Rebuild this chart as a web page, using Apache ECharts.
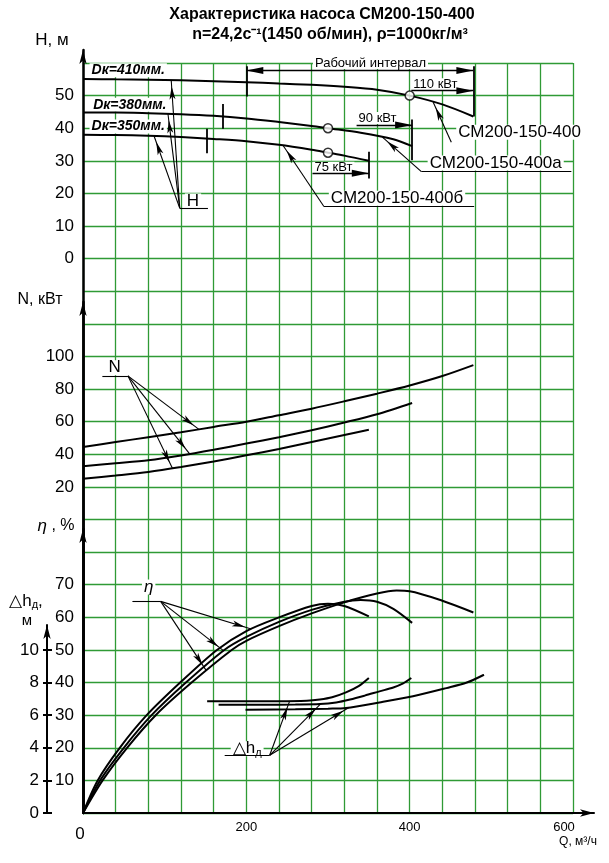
<!DOCTYPE html>
<html><head><meta charset="utf-8">
<script src="https://cdn.jsdelivr.net/npm/echarts@6.0.0/dist/echarts.min.js"></script>
<style>html,body{margin:0;padding:0;background:#fff;}#chart{width:609px;height:863px;}</style>
</head><body><div id="chart"></div>
<script>
// ---------- tick labels ----------
const qLabels = [0, 200, 400, 600];
const hTicks = [0, 10, 20, 30, 40, 50];
const nTicks = [20, 40, 60, 80, 100];
const etaTicks = [10, 20, 30, 40, 50, 60, 70];
const dhTicks = [0, 2, 4, 6, 8, 10];

// ---------- H–Q (m) ----------
const qH410 = [0, 40, 80, 120, 160, 200, 240, 280, 320, 360, 400, 440, 478];
const h410  = [55.1, 55, 54.9, 54.7, 54.4, 54.1, 53.7, 53.3, 52.7, 51.8, 50, 47.3, 43.6];
const qH380 = [0, 40, 80, 120, 160, 200, 240, 280, 300, 340, 380, 403];
const h380  = [44.8, 44.8, 44.6, 44.3, 43.8, 43, 41.9, 40.7, 40, 38.6, 36.6, 34.5];
const qH350 = [0, 40, 80, 120, 160, 200, 240, 280, 300, 320, 350];
const h350  = [38, 37.9, 37.7, 37.3, 36.7, 36, 34.9, 33.4, 32.5, 31.6, 30];

// ---------- N–Q (kW) ----------
const qN410 = [0, 40, 80, 120, 160, 200, 240, 280, 320, 360, 400, 440, 478];
const n410  = [44.5, 47.5, 50.5, 53.5, 56.8, 60, 64, 68, 72.5, 77.2, 82.2, 88, 94.7];
const qN380 = [0, 40, 80, 120, 160, 200, 240, 280, 320, 360, 403];
const n380  = [32.7, 34.5, 36.4, 39.3, 42.8, 46.6, 50.5, 54.8, 59.5, 64.6, 71.5];
const qN350 = [0, 40, 80, 120, 160, 200, 240, 280, 320, 350];
const n350  = [25, 27, 29.2, 32.2, 35.6, 39.4, 43.3, 47.6, 51.8, 55];

// ---------- η–Q (%) ----------
const qE410 = [0, 24, 54, 89, 133, 182, 200, 240, 280, 320, 360, 384, 400, 440, 478];
const e410  = [0, 10, 20, 30, 40, 50, 52.8, 57.3, 61.2, 64.6, 67.3, 68.2, 68, 65.1, 61.5];
const qE380 = [0, 21, 50, 84, 126, 173, 200, 240, 280, 320, 340, 360, 380, 403];
const e380  = [0, 10, 20, 30, 40, 50, 54, 58.6, 62.3, 64.8, 65.3, 64.8, 62.6, 58.3];
const qE350 = [0, 18, 45, 78, 119, 164, 200, 240, 280, 300, 320, 350];
const e350  = [0, 10, 20, 30, 40, 50, 55.8, 60, 63.5, 64.2, 63.5, 60.3];

// ---------- Δh–Q (m) ----------
const qD350 = [152, 200, 240, 274, 290, 305, 322, 338, 350];
const d350  = [6.85, 6.85, 6.85, 6.88, 6.96, 7.1, 7.4, 7.8, 8.28];
const qD380 = [166, 220, 260, 290, 310, 327, 345, 363, 380, 392, 402];
const d380  = [6.64, 6.64, 6.65, 6.68, 6.78, 6.96, 7.2, 7.46, 7.7, 7.95, 8.28];
const qD410 = [199, 260, 300, 322, 363, 404, 445, 470, 491];
const d410  = [6.34, 6.36, 6.4, 6.44, 6.78, 7.16, 7.66, 8.0, 8.48];

// ---------- duty points ----------
const dutyQ = [400, 300, 300];
const dutyH = [50, 40, 32.5];
const dutyPower = ['110 кВт', '90 кВт', '75 кВт'];
const curveNames = ['СМ200-150-400', 'СМ200-150-400а', 'СМ200-150-400б'];
const diaNames = ['Dк=410мм.', 'Dк=380мм.', 'Dк=350мм.'];

// ================= rendering =================
const FONT = '"Liberation Sans", Arial, Helvetica, sans-serif';
const GREEN = '#2f9a35';
const zip = (xs, ys) => xs.map((x, i) => [x, ys[i]]);
const chart = echarts.init(document.getElementById('chart'));

// grid geometry
const GL = 83, GT = 63, GW = 490, GH = 750, GB = 863 - GT - GH; // bottom 50
const ROWS = 23;
const dhMax = (GH - (625 - GT)) / (GH / (ROWS * 2));

function curve(xs, ys, yi) {
  return {type: 'line', xAxisIndex: 0, yAxisIndex: yi, data: zip(xs, ys), smooth: 0.3,
    showSymbol: false, symbol: 'none', clip: false, silent: true,
    lineStyle: {color: '#000', width: 2}, z: 3};
}
function seg(a, b, endSym, startSym) {
  return [{coord: a, symbol: startSym || 'none'}, {coord: b, symbol: endSym || 'none'}];
}
function annot(yi, items, opts) {
  opts = opts || {};
  const size = opts.size || [4.5, 13];
  return {type: 'line', xAxisIndex: 0, yAxisIndex: yi, data: [], silent: true, clip: false,
    showSymbol: false, lineStyle: {width: 0}, z: 4,
    markLine: {silent: true, animation: false, precision: 4,
      symbolSize: size,
      symbolOffset: [[0, size[1] / 2], [0, size[1] / 2]],
      label: {show: false}, emphasis: {disabled: true},
      lineStyle: {type: 'solid', color: '#000', width: opts.width || 1.1, opacity: 1},
      itemStyle: {color: '#000'},
      data: items}};
}

// interpolation helper for arrow tips lying on the curves
function at(xs, ys, q) {
  for (let i = 1; i < xs.length; i++) if (q <= xs[i]) {
    const t = (q - xs[i - 1]) / (xs[i] - xs[i - 1]); return ys[i - 1] + t * (ys[i] - ys[i - 1]);
  }
  return ys[ys.length - 1];
}

const arrowAxis = (w) => ({show: true, onZero: false, symbol: ['none', 'arrow'], symbolSize: [5.5, 14],
  lineStyle: {color: '#000', width: w}});
const hidden = (gi) => ({gridIndex: gi, type: 'value', show: false, min: 0, max: 1});

const option = {
  animation: false,
  textStyle: {fontFamily: FONT, color: '#000'},
  grid: [
    {left: GL, top: GT, width: GW, height: GH, containLabel: false, outerBoundsMode: 'none'},
    {left: GL, top: 50, right: 15, bottom: GB, containLabel: false, outerBoundsMode: 'none'},
    {left: GL, top: 302, width: 10, bottom: GB, containLabel: false, outerBoundsMode: 'none'},
    {left: GL, top: 529, width: 10, bottom: GB, containLabel: false, outerBoundsMode: 'none'},
    {left: 47, top: 625, width: 10, bottom: GB, containLabel: false, outerBoundsMode: 'none'}
  ],
  xAxis: [
    {gridIndex: 0, type: 'value', min: 0, max: 600, interval: 40,
      axisLine: {show: false}, axisTick: {show: false},
      splitLine: {show: true, lineStyle: {color: GREEN, width: 1.3}},
      axisLabel: {show: true, margin: 8, fontSize: 13, color: '#000', fontFamily: FONT, hideOverlap: false,
        formatter: v => v === 0 ? '{o|0}' : (v === 600 ? '{s|600}' : (qLabels.includes(v) ? String(v) : '')),
        rich: {o: {fontSize: 17, fontFamily: FONT, padding: [5, 6, 0, 0]}, s: {fontSize: 13, fontFamily: FONT, padding: [0, 18, 0, 0]}}}},
    {gridIndex: 1, type: 'value', min: 0, max: 1, axisLine: arrowAxis(2), axisTick: {show: false},
      axisLabel: {show: false}, splitLine: {show: false}},
    hidden(2), hidden(3), hidden(4)
  ],
  yAxis: [
    {gridIndex: 0, type: 'value', position: 'left', min: 0, max: 230, interval: 10,
      axisLine: {show: false}, axisTick: {show: false},
      splitLine: {show: true, lineStyle: {color: GREEN, width: 1.3}},
      axisLabel: {fontSize: 17, margin: 9, color: '#000', fontFamily: FONT, hideOverlap: false,
        formatter: v => etaTicks.includes(Math.round(v)) ? String(Math.round(v)) : ''}},
    {gridIndex: 0, type: 'value', position: 'left', min: -180, max: 280, interval: 20,
      axisLine: {show: false}, axisTick: {show: false}, splitLine: {show: false},
      axisLabel: {fontSize: 17, margin: 9, color: '#000', fontFamily: FONT, hideOverlap: false,
        formatter: v => nTicks.includes(Math.round(v)) ? String(Math.round(v)) : ''}},
    {gridIndex: 0, type: 'value', position: 'left', min: -170, max: 60, interval: 10,
      axisLine: {show: false}, axisTick: {show: false}, splitLine: {show: false},
      axisLabel: {fontSize: 17, margin: 9, color: '#000', fontFamily: FONT, hideOverlap: false,
        formatter: v => hTicks.includes(Math.round(v)) ? String(Math.round(v)) : ''}},
    {gridIndex: 0, type: 'value', position: 'left', min: 0, max: ROWS * 2, show: false},
    {gridIndex: 1, type: 'value', position: 'left', min: 0, max: 1, axisLine: arrowAxis(2.5),
      axisTick: {show: false}, axisLabel: {show: false}, splitLine: {show: false}},
    {gridIndex: 2, type: 'value', position: 'left', min: 0, max: 1, axisLine: arrowAxis(2.5),
      axisTick: {show: false}, axisLabel: {show: false}, splitLine: {show: false}},
    {gridIndex: 3, type: 'value', position: 'left', min: 0, max: 1, axisLine: arrowAxis(2.5),
      axisTick: {show: false}, axisLabel: {show: false}, splitLine: {show: false}},
    {gridIndex: 4, type: 'value', position: 'left', min: 0, max: dhMax, interval: 2,
      axisLine: arrowAxis(2), splitLine: {show: false},
      axisTick: {show: true, length: 4, customValues: dhTicks, lineStyle: {color: '#000', width: 2}},
      axisLabel: {show: true, fontSize: 17, margin: 8, color: '#000', fontFamily: FONT, customValues: dhTicks, hideOverlap: false,
        formatter: v => dhTicks.includes(Math.round(v * 1000) / 1000) ? String(Math.round(v)) : ''}},
    {gridIndex: 4, type: 'value', position: 'left', min: 0, max: dhMax, interval: 2,
      axisLine: {show: false}, splitLine: {show: false}, axisLabel: {show: false},
      axisTick: {show: true, inside: true, length: 5, customValues: dhTicks, lineStyle: {color: '#000', width: 2}}}
  ],
  series: [
    curve(qH410, h410, 2), curve(qH380, h380, 2), curve(qH350, h350, 2),
    curve(qN410, n410, 1), curve(qN380, n380, 1), curve(qN350, n350, 1),
    curve(qE410, e410, 0), curve(qE380, e380, 0), curve(qE350, e350, 0),
    curve(qD350, d350, 3), curve(qD380, d380, 3), curve(qD410, d410, 3),
    {type: 'scatter', xAxisIndex: 0, yAxisIndex: 2, data: zip(dutyQ, dutyH), symbol: 'circle', symbolSize: 9,
      silent: true, z: 6, itemStyle: {color: '#fff', borderColor: '#000', borderWidth: 1.5}},
    // vertical limit marks (H panel)
    annot(2, [
      seg([200, 49.7], [200, 59]), seg([478, 43.6], [478, 59]),
      seg([171, 39.8], [171, 47.4]), seg([151, 32.3], [151, 39.8]),
      seg([403, 30.2], [403, 42.7]), seg([350, 24.6], [350, 32.8])
    ], {width: 1.8}),
    // dimension / power arrows (H panel)
    annot(2, [
      seg([200, 57.7], [478, 57.7], 'triangle', 'triangle'),
      seg([402, 51.5], [478, 51.5], 'triangle'),
      seg([335, 41], [403, 41], 'triangle'),
      seg([281, 26.2], [350, 26.2], 'triangle')
    ], {size: [7, 17], width: 1.3}),
    // leaders (H panel)
    annot(2, [
      seg([118.4, 15.5], [108, at(qH410, h410, 108)], 'arrow'),
      seg([118.4, 15.5], [104, at(qH380, h380, 104)], 'arrow'),
      seg([118.4, 15.5], [87, at(qH350, h350, 87)], 'arrow'),
      seg([118.4, 15.5], [153, 15.5]),
      seg([451, 35.7], [428.7, at(qH410, h410, 428.7)], 'arrow'), seg([451, 35.7], [624, 35.7]),
      seg([414.3, 26.7], [366.6, at(qH380, h380, 366.6)], 'arrow'), seg([414.3, 26.7], [598, 26.7]),
      seg([295, 16], [245, at(qH350, h350, 245)], 'arrow'), seg([295, 16], [479, 16])
    ]),
    // leaders (N panel)
    annot(1, [
      seg([55, 88.1], [142, at(qN410, n410, 142)], 'arrow'),
      seg([55, 88.1], [130.6, at(qN380, n380, 130.6)], 'arrow'),
      seg([55, 88.1], [109.5, at(qN350, n350, 109.5)], 'arrow'),
      seg([23.7, 88.1], [55, 88.1])
    ]),
    // leaders (η panel)
    annot(0, [
      seg([95.1, 64.9], [206, at(qE350, e350, 206)], 'arrow'),
      seg([95.1, 64.9], [172, at(qE380, e380, 172)], 'arrow'),
      seg([95.1, 64.9], [151, at(qE410, e410, 151)], 'arrow'),
      seg([60.5, 64.9], [95.1, 64.9])
    ]),
    // leaders (Δh)
    annot(3, [
      seg([228.6, 3.54], [253, at(qD350, d350, 253)], 'arrow'),
      seg([228.6, 3.54], [290.7, at(qD380, d380, 290.7)], 'arrow'),
      seg([228.6, 3.54], [325.7, at(qD410, d410, 325.7)], 'arrow'),
      seg([173.5, 3.54], [228.6, 3.54])
    ])
  ]
};
chart.setOption(option);

// ---------- texts ----------
const P = (q, v, yi) => chart.convertToPixel({xAxisIndex: 0, yAxisIndex: yi}, [q, v]);
function T(x, y, text, o) {
  o = o || {};
  const st = {text: text, fill: '#000', font: (o.font || '17px') + ' ' + FONT, align: o.align || 'center',
    verticalAlign: 'middle'};
  if (o.bg) { st.backgroundColor = '#fff'; st.padding = o.pad || [0, 2]; }
  if (o.rich) st.rich = o.rich;
  if (o.lh) st.lineHeight = o.lh;
  return {type: 'text', x: x, y: y, z: o.z || 1, silent: true, style: st};
}
function TD(q, v, yi, text, o) { const p = P(q, v, yi); return T(p[0], p[1], text, o); }

const richSub = {a: {fontSize: 17, fontFamily: FONT}, s: {fontSize: 11, fontFamily: FONT, padding: [8, 0, 0, 0]},
  i: {fontSize: 17, fontFamily: FONT, fontStyle: 'italic'}};

const graphic = [
  T(322, 15, 'Характеристика насоса СМ200-150-400', {font: 'bold 16px', z: 5}),
  T(330, 35, 'n=24,2с⁻¹(1450 об/мин), ρ=1000кг/м³', {font: 'bold 16px', z: 5}),
  T(52, 40, 'H, м', {font: '17px'}),
  T(40, 300, 'N, кВт', {font: '16px'}),
  T(56, 526, '{i|η} , %', {font: '16px', rich: {i: {fontSize: 17, fontStyle: 'italic', fontFamily: FONT}}}),
  T(26, 601, '{a|△h}{s|д}{a|,}', {rich: richSub}),
  T(27, 621, 'м', {font: '15px'}),
  T(578, 842, 'Q, м³/ч', {font: '12px'}),
  // H panel
  TD(8, 57.8, 2, diaNames[0], {font: 'italic bold 14px', align: 'left', bg: true}),
  TD(10, 47.2, 2, diaNames[1], {font: 'italic bold 14px', align: 'left', bg: true}),
  TD(8, 40.5, 2, diaNames[2], {font: 'italic bold 14px', align: 'left', bg: true}),
  TD(352, 59.85, 2, 'Рабочий интервал', {font: '13px', bg: true, pad: [0, 2], lh: 11}),
  TD(402, 53.5, 2, dutyPower[0], {font: '13px', align: 'left', bg: true, lh: 12}),
  TD(335, 43.1, 2, dutyPower[1], {font: '13px', align: 'left', bg: true, lh: 12}),
  TD(281, 27.9, 2, dutyPower[2], {font: '13px', align: 'left', bg: true, lh: 12}),
  TD(457, 38.8, 2, curveNames[0], {align: 'left', bg: true, lh: 15}),
  TD(422, 29.3, 2, curveNames[1], {align: 'left', bg: true, lh: 15}),
  TD(301, 18.5, 2, curveNames[2], {align: 'left', bg: true, lh: 15}),
  TD(134.7, 17.7, 2, 'H', {bg: true, lh: 15}),
  // N panel
  TD(38.8, 93.1, 1, 'N', {bg: true, lh: 15}),
  // η panel
  TD(80.4, 69.3, 0, '{i|η}', {bg: true, lh: 15, rich: richSub}),
  TD(201, 3.94, 3, '{a|△h}{s|д}', {bg: true, lh: 15, rich: richSub})
];
chart.setOption({graphic: graphic});
</script>
</body></html>
